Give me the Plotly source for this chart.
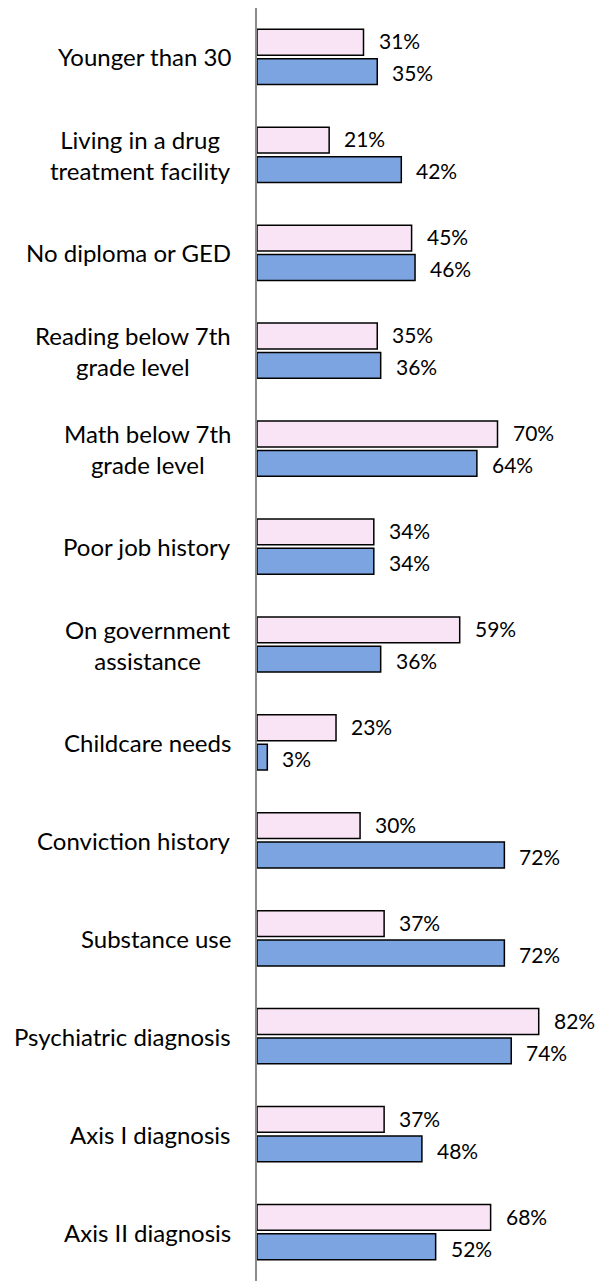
import plotly.graph_objects as go

categories = [
    "Younger than 30",
    "Living in a drug<br>treatment facility",
    "No diploma or GED",
    "Reading below 7th<br>grade level",
    "Math below 7th<br>grade level",
    "Poor job history",
    "On government<br>assistance",
    "Childcare needs",
    "Conviction history",
    "Substance use",
    "Psychiatric diagnosis",
    "Axis I diagnosis",
    "Axis II diagnosis",
]
pink_values = [31, 21, 45, 35, 70, 34, 59, 23, 30, 37, 82, 37, 68]
blue_values = [35, 42, 46, 36, 64, 34, 36, 3, 72, 72, 74, 48, 52]

FONT = "Lato"
PINK = "#F8E4F5"
BLUE = "#7BA4E0"

fig = go.Figure()
fig.add_trace(go.Bar(y=categories, x=pink_values, orientation="h",
                     marker=dict(color=PINK, line=dict(color="#000", width=1.5)),
                     showlegend=False))
fig.add_trace(go.Bar(y=categories, x=blue_values, orientation="h",
                     marker=dict(color=BLUE, line=dict(color="#000", width=1.5)),
                     showlegend=False))

annotations = []
for i, c in enumerate(categories):
    annotations.append(dict(x=0, xref="paper", y=c, yref="y", text=c,
                            xanchor="right", yanchor="middle", align="center",
                            xshift=-24, showarrow=False,
                            font=dict(family=FONT, size=24, color="#000")))
for vals, shift in ((pink_values, 16), (blue_values, -16)):
    for c, v in zip(categories, vals):
        annotations.append(dict(x=v, y=c, xref="x", yref="y", text=f"{v}%",
                                xanchor="left", yanchor="middle", xshift=13,
                                yshift=shift, showarrow=False,
                                font=dict(family=FONT, size=21, color="#000")))

fig.update_layout(
    width=604, height=1281,
    margin=dict(l=257, r=0, t=8, b=0),
    plot_bgcolor="white", paper_bgcolor="white",
    barmode="group", bargap=0.4, bargroupgap=0.12,
    annotations=annotations,
    xaxis=dict(range=[0, 101], visible=False, showgrid=False, zeroline=False),
    yaxis=dict(autorange="reversed", showticklabels=False, showgrid=False,
               showline=True, linecolor="#8C8C8C", linewidth=2, ticks="",
               zeroline=False),
)

fig.write_html("out.html")
